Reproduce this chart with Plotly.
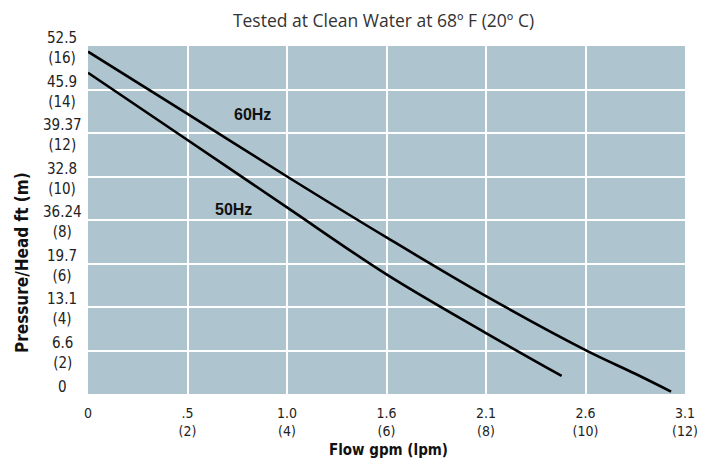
import plotly.graph_objects as go

# Data (x in lpm, y in metres)
flow_60 = [0, 2, 4, 6, 8, 10, 11, 11.72]
head_60 = [15.74, 12.88, 10.0, 7.2, 4.5, 2.02, 0.93, 0.11]
flow_50 = [0, 2, 4, 6, 8, 9.52]
head_50 = [14.77, 11.68, 8.58, 5.5, 2.8, 0.83]

x_tick_vals = [0, 2, 4, 6, 8, 10, 12]
x_tick_text = ["0", ".5<br>(2)", "1.0<br>(4)", "1.6<br>(6)", "2.1<br>(8)", "2.6<br>(10)", "3.1<br>(12)"]
y_tick_vals = [0, 2, 4, 6, 8, 10, 12, 14, 16]
y_tick_text = ["0", "6.6<br>(2)", "13.1<br>(4)", "19.7<br>(6)", "36.24<br>(8)", "32.8<br>(10)",
               "39.37<br>(12)", "45.9<br>(14)", "52.5<br>(16)"]

series_labels = ["60Hz", "50Hz"]
label_pos = [(3.3, 12.83), (2.93, 8.5)]

COND = "DejaVu Sans Condensed, Liberation Sans Narrow, sans-serif"

# page has an 8px body margin: figure sized to fit the 713x462 window
OFF = 8
W, H = 713 - OFF, 462 - OFF
L, T = 88 - OFF, 46 - OFF
pw, ph = 597, 348
R, B = W - L - pw, H - T - ph

fig = go.Figure()
fig.add_trace(go.Scatter(x=flow_60, y=head_60, mode="lines",
                         line=dict(color="black", width=2.6, shape="spline", smoothing=1.0),
                         name="60Hz", showlegend=False))
fig.add_trace(go.Scatter(x=flow_50, y=head_50, mode="lines",
                         line=dict(color="black", width=2.6, shape="spline", smoothing=1.0),
                         name="50Hz", showlegend=False))

annotations = []
for v, t in zip(y_tick_vals, y_tick_text):
    annotations.append(dict(x=0, xref="paper", xshift=-26, y=v, yref="y",
                            yshift=(7 if t == "0" else -2),
                            text=t, showarrow=False, xanchor="center", yanchor="middle",
                            align="center", font=dict(family=COND, size=15, color="#222")))
for lab, (lx, ly) in zip(series_labels, label_pos):
    annotations.append(dict(x=lx, y=ly, xref="x", yref="y", text="<b>" + lab + "</b>", showarrow=False,
                            font=dict(family="Liberation Sans, Arial, sans-serif", size=16, color="#111")))
annotations.append(dict(x=(22 - OFF - L) / pw, xref="paper", y=(H - B - (263 - OFF)) / ph, yref="paper",
                        text="<b>Pressure/Head ft (m)</b>", textangle=-90, showarrow=False,
                        xanchor="center", yanchor="middle",
                        font=dict(family=COND, size=17, color="#111")))
annotations.append(dict(x=(388 - OFF - L) / pw, xref="paper", y=(H - B - (450 - OFF)) / ph, yref="paper",
                        text="<b>Flow gpm (lpm)</b>", showarrow=False, xanchor="center", yanchor="middle",
                        font=dict(family=COND, size=15, color="#111")))

fig.update_layout(
    width=W, height=H,
    margin=dict(l=L, r=R, t=T, b=B, autoexpand=False),
    paper_bgcolor="white",
    plot_bgcolor="#aec4cf",
    title=dict(text="Tested at Clean Water at 68º F (20º C)", x=(L + pw / 2 - 3) / W, xanchor="center",
               y=1 - (21 - OFF) / H, yanchor="middle",
               font=dict(family="Open Sans, Noto Sans, sans-serif", size=17.5, color="#333")),
    annotations=annotations,
)
fig.update_xaxes(range=[0, 12], tickvals=x_tick_vals, ticktext=x_tick_text, showgrid=True,
                 gridcolor="white", gridwidth=1.6, zeroline=False, showline=False, automargin=False,
                 ticks="outside", ticklen=6, tickcolor="rgba(0,0,0,0)",
                 tickfont=dict(family=COND, size=14, color="#222"))
fig.update_yaxes(range=[0, 16], tickvals=y_tick_vals, showticklabels=False, showgrid=True,
                 gridcolor="white", gridwidth=1.6, zeroline=False, showline=False, automargin=False)

fig.write_html("out.html")
